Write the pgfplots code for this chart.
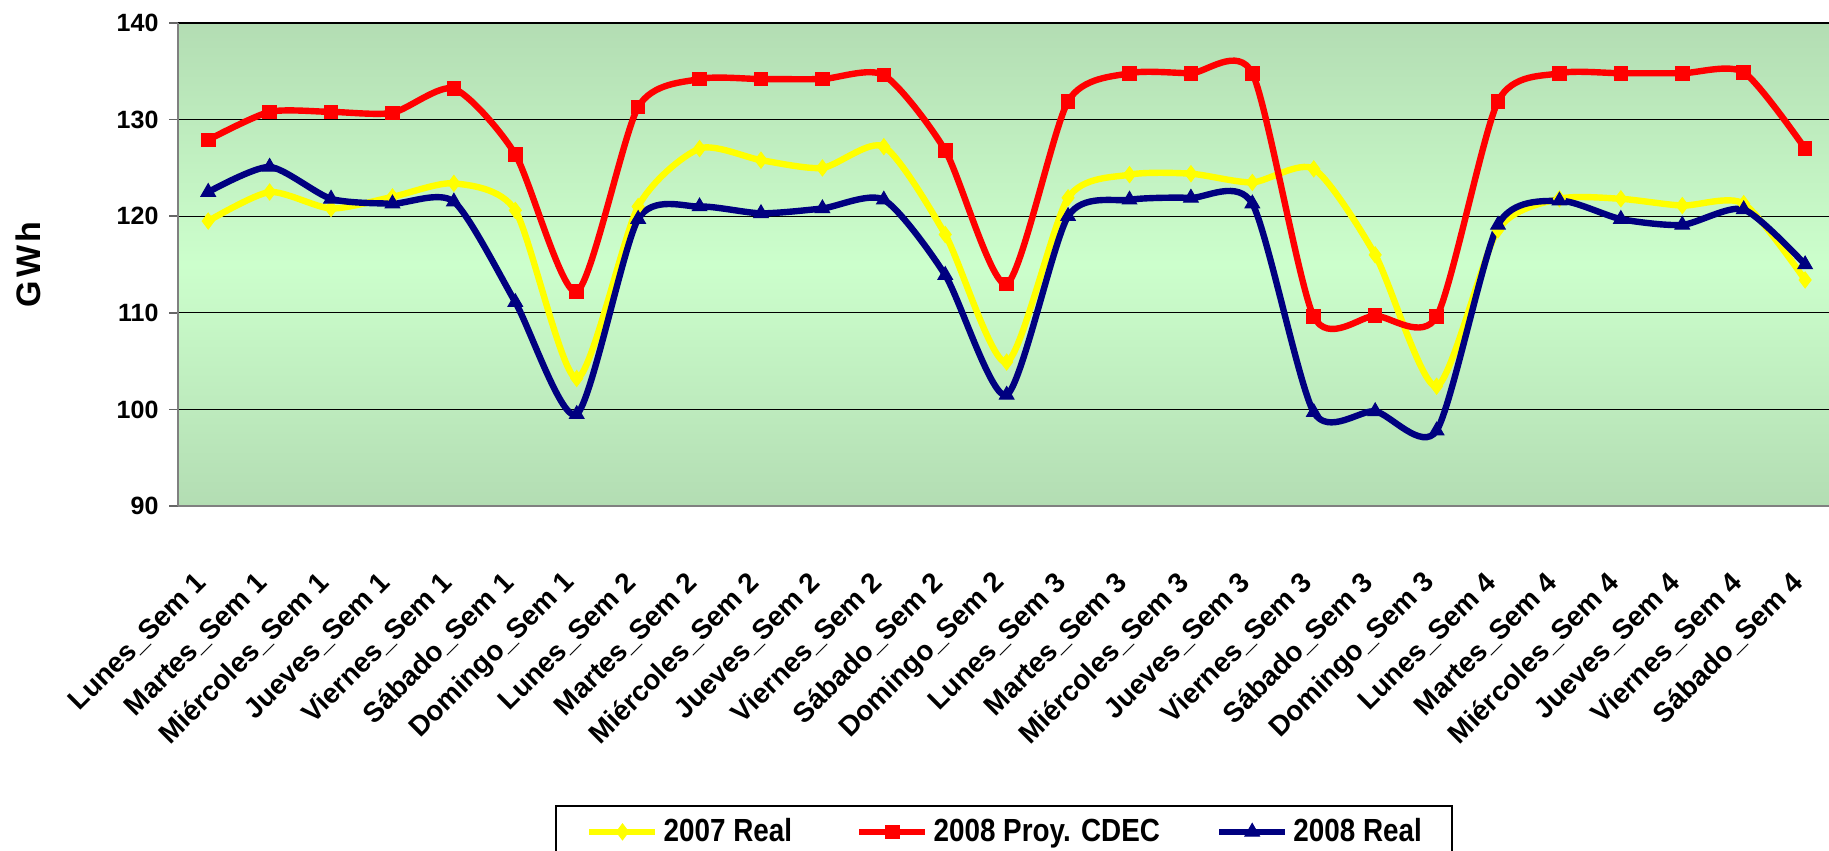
\documentclass[border=0pt]{standalone}
\usepackage{fontspec}
\setmainfont{Liberation Sans}
\newfontfamily\legendfont[FakeStretch=0.87]{Liberation Sans}
\usepackage{pgfplots}
\usepackage{pgfplotstable}
\pgfplotsset{compat=1.18}

\definecolor{gdark}{RGB}{179,221,179}
\definecolor{glight}{RGB}{204,255,204}
\definecolor{navy}{RGB}{0,0,128}
\definecolor{amarillo}{RGB}{255,255,0}

% GWh diarios: 2007 real, 2008 proyeccion CDEC, 2008 real
\pgfplotstableread{
i  real07 proy08 real08
0  119.5  127.9  122.5
1  122.5  130.8  125.1
2  120.8  130.8  121.8
3  122.0  130.7  121.3
4  123.4  133.2  121.5
5  120.6  126.4  111.1
6  103.2  112.2   99.5
7  121.0  131.3  119.7
8  127.0  134.2  121.0
9  125.8  134.2  120.3
10 125.0  134.2  120.8
11 127.2  134.6  121.7
12 118.1  126.8  113.9
13 104.9  113.0  101.5
14 121.9  131.9  120.0
15 124.3  134.8  121.7
16 124.4  134.8  121.9
17 123.5  134.8  121.3
18 124.9  109.6   99.7
19 116.0  109.7   99.8
20 102.4  109.6   97.8
21 118.6  131.9  119.1
22 121.8  134.8  121.6
23 121.8  134.8  119.7
24 121.1  134.8  119.1
25 121.3  134.9  120.7
26 113.4  127.0  115.0
}\datos

\begin{document}
\begin{tikzpicture}
\useasboundingbox (0,0) rectangle (914.5bp,425.5bp);
\begin{axis}[
  at={(88.75bp,172.5bp)}, anchor=south west,
  scale only axis, width=825.75bp, height=241.5bp,
  xmin=-0.5, xmax=26.389, ymin=90, ymax=140,
  ytick={90,100,...,140},
  axis x line*=bottom, axis y line*=left,
  axis line style={draw=black!50, line width=1bp},
  ymajorgrids, grid style={black, line width=0.6bp},
  axis background/.style={top color=gdark, bottom color=gdark, middle color=glight},
  tick align=outside,
  major tick length=4bp, minor tick length=6bp,
  tick style={black!60, line width=0.8bp},
  xtick=\empty,
  minor xtick={-0.5,0.5,...,25.5},
  extra x ticks={0,...,26},
  extra x tick style={major tick length=0pt, grid=none},
  extra x tick labels={Lunes\_Sem 1,Martes\_Sem 1,Miércoles\_Sem 1,Jueves\_Sem 1,Viernes\_Sem 1,Sábado\_Sem 1,Domingo\_Sem 1,
    Lunes\_Sem 2,Martes\_Sem 2,Miércoles\_Sem 2,Jueves\_Sem 2,Viernes\_Sem 2,Sábado\_Sem 2,Domingo\_Sem 2,
    Lunes\_Sem 3,Martes\_Sem 3,Miércoles\_Sem 3,Jueves\_Sem 3,Viernes\_Sem 3,Sábado\_Sem 3,Domingo\_Sem 3,
    Lunes\_Sem 4,Martes\_Sem 4,Miércoles\_Sem 4,Jueves\_Sem 4,Viernes\_Sem 4,Sábado\_Sem 4},
  xticklabel style={xshift=-3bp, yshift=-36bp, rotate=45, anchor=east, inner sep=0pt,
    font=\fontsize{14bp}{16bp}\selectfont\bfseries},
  yticklabel style={xshift=-2bp, font=\fontsize{12.5bp}{14bp}\selectfont\bfseries},
  /pgf/number format/assume math mode=true,
  ylabel={G\kern1.5bp W\kern1.5bp h},
  ylabel style={at={(axis description cs:-0.0905,0.5)}, anchor=center,
    font=\fontsize{17bp}{19bp}\selectfont\bfseries},
  legend columns=3,
  legend image code/.code={\draw[mark repeat=2,mark phase=2,#1] plot coordinates {(0bp,0bp) (16.5bp,0bp) (33bp,0bp)};},
  legend style={at={(axis description cs:0.5005,-0.619)}, anchor=north,
    draw=black, line width=0.8bp, fill=white,
    inner xsep=15bp, inner ysep=6.5bp,
    nodes={inner sep=0pt, anchor=west},
    font=\legendfont\fontsize{16bp}{18bp}\selectfont\bfseries,
    /tikz/every odd column/.append style={column sep=2.5bp},
    /tikz/column 2/.append style={column sep=32bp},
    /tikz/column 4/.append style={column sep=28bp}},
  every axis plot/.append style={line width=3.2bp, smooth, tension=0.42},
]
\addplot[color=amarillo, mark=diamond*, mark size=4bp, mark options={solid, fill=amarillo, line width=0.5bp}]
  table[x=i, y=real07] {\datos};
\addplot[color=red, mark=square*, mark size=3.4bp, mark options={solid, fill=red, line width=0.5bp}]
  table[x=i, y=proy08] {\datos};
\addplot[color=navy, mark=triangle*, mark size=4.2bp, mark options={solid, fill=navy, line width=0.5bp}]
  table[x=i, y=real08] {\datos};
\legend{2007 Real,2008 Proy. CDEC,2008 Real}
\end{axis}
\end{tikzpicture}
\end{document}
